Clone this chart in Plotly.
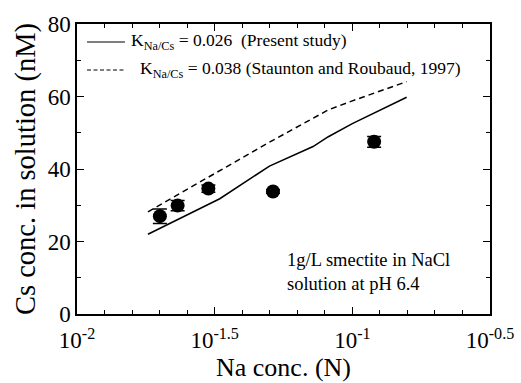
import plotly.graph_objects as go

# Measured data
na_meas = [0.020, 0.0232, 0.030, 0.0515, 0.120]
cs_meas = [27.0, 29.9, 34.6, 33.8, 47.5]
cs_err = [2.0, 1.4, 1.0, 0.5, 1.5]

# Model curves
na_model = [0.0181, 0.033, 0.050, 0.072, 0.0818, 0.100, 0.1575]
cs_k026 = [22.0, 31.8, 40.8, 46.2, 48.9, 52.5, 59.8]
cs_k038 = [28.2, 39.5, 47.4, 54.0, 56.3, 58.8, 64.1]

tick_vals = [10**-2, 10**-1.5, 10**-1, 10**-0.5]
tick_text = ["10<sup>-2</sup>", "10<sup>-1.5</sup>", "10<sup>-1</sup>", "10<sup>-0.5</sup>"]

legend_labels = ["K<sub>Na/Cs</sub> = 0.026  (Present study)",
                 "K<sub>Na/Cs</sub> = 0.038 (Staunton and Roubaud, 1997)"]

font_family = "Times New Roman, Liberation Serif, DejaVu Serif, serif"

fig = go.Figure()
fig.add_trace(go.Scatter(
    x=na_model, y=cs_k026, mode="lines",
    line=dict(color="black", width=1.5), showlegend=False))
fig.add_trace(go.Scatter(
    x=na_model, y=cs_k038, mode="lines",
    line=dict(color="black", width=1.5, dash="6px,4px"), showlegend=False))
fig.add_trace(go.Scatter(
    x=na_meas, y=cs_meas, mode="markers",
    marker=dict(color="black", size=14),
    error_y=dict(type="data", array=cs_err, color="black", thickness=1.5, width=7),
    showlegend=False))

# Manual legend (plot area: x 77..490, y 24..314)
W, H = 413.0, 290.0
def px(xp):
    return (xp - 77) / W
def py(yp):
    return (314 - yp) / H

leg_rows = [(42, "solid", 129), (70, "4px,2.5px", 138)]
for (yy, dash, tx), lab in zip(leg_rows, legend_labels):
    fig.add_shape(type="line", xref="paper", yref="paper",
                  x0=px(87), x1=px(125), y0=py(yy), y1=py(yy),
                  line=dict(color="black", width=1.2, dash=dash))
    fig.add_annotation(x=px(tx), y=py(yy - 1), xref="paper", yref="paper",
                       xanchor="left", yanchor="middle", text=lab, showarrow=False,
                       font=dict(family=font_family, size=17.5, color="black"))

fig.add_annotation(
    x=px(285), y=py(272), xref="paper", yref="paper", xanchor="left", yanchor="middle",
    text="1g/L smectite in NaCl<br>solution at pH 6.4", align="left",
    showarrow=False, font=dict(family=font_family, size=18.5, color="black"))

fig.update_layout(
    width=521, height=383,
    margin=dict(l=77, r=31, t=24, b=69),
    paper_bgcolor="white", plot_bgcolor="white",
    font=dict(family=font_family, color="black"),
    showlegend=False,
)
fig.update_xaxes(
    type="log", range=[-2, -0.5], automargin=False,
    tickmode="array", tickvals=tick_vals, ticktext=tick_text,
    ticks="inside", ticklen=7, tickwidth=1, tickcolor="black",
    minor=dict(dtick=0.1, tick0=-2, ticks="inside", ticklen=4, tickcolor="black", showgrid=False),
    showline=True, linecolor="black", linewidth=1.5, mirror="ticks",
    showgrid=False, zeroline=False, ticklabelstandoff=5,
    tickfont=dict(family=font_family, size=23),
    title=dict(text="Na conc. (N)", font=dict(family=font_family, size=26), standoff=0),
)
fig.update_yaxes(
    range=[0, 80], dtick=20, automargin=False,
    ticks="inside", ticklen=7, tickwidth=1, tickcolor="black",
    minor=dict(dtick=10, ticks="inside", ticklen=4, tickcolor="black", showgrid=False),
    showline=True, linecolor="black", linewidth=1.5, mirror="ticks",
    showgrid=False, zeroline=False,
    tickfont=dict(family=font_family, size=23),
    title=dict(text="Cs conc. in solution (nM)", font=dict(family=font_family, size=28.5), standoff=4),
)

fig.write_html("out.html")
